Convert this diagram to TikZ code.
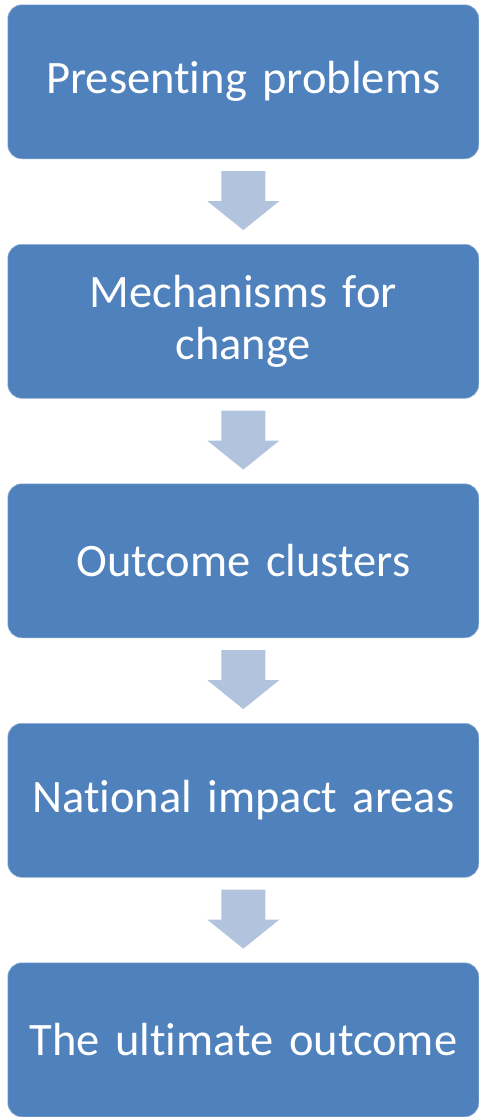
\documentclass[tikz,border=0pt]{standalone}
\usepackage{fontspec}
\setmainfont[Ligatures=NoCommon]{Carlito}
\usetikzlibrary{calc}
\definecolor{boxblue}{RGB}{79,129,189}
\definecolor{arrowblue}{RGB}{178,195,222}
\begin{document}
\begin{tikzpicture}[x=1pt,y=-1pt,
  stagebox/.style={fill=boxblue,draw=boxblue!60!white,line width=0.6pt,rounded corners=14pt,
    minimum width=471pt,minimum height=154pt,inner sep=0pt,text=white,
    font=\fontsize{46.5}{52.5}\selectfont,align=center,text width=460pt,anchor=north west},
  downarrow/.style={fill=arrowblue,draw=none}]
\useasboundingbox (0,0) rectangle (479,1117);
\node[stagebox] (b1) at (7.5,4.5) {Presenting problems};
\node[stagebox] (b2) at (7.5,244) {Mechanisms for\\change};
\node[stagebox] (b3) at (7.5,483.5) {Outcome clusters};
\node[stagebox] (b4) at (7.5,723) {National impact areas};
\node[stagebox] (b5) at (7.5,962.5) {The ultimate outcome};
\foreach \a/\b in {b1/b2,b2/b3,b3/b4,b4/b5}{
  \path (\a.south) ++(0,12) coordinate (t\a);
  \fill[downarrow] (t\a) ++(-22,0) -- ++(44,0) -- ++(0,30) -- ++(14,0) -- ($(t\a)+(0,59)$) -- ++(-36,-29) -- ++(14,0) -- cycle;
}
\end{tikzpicture}
\end{document}
